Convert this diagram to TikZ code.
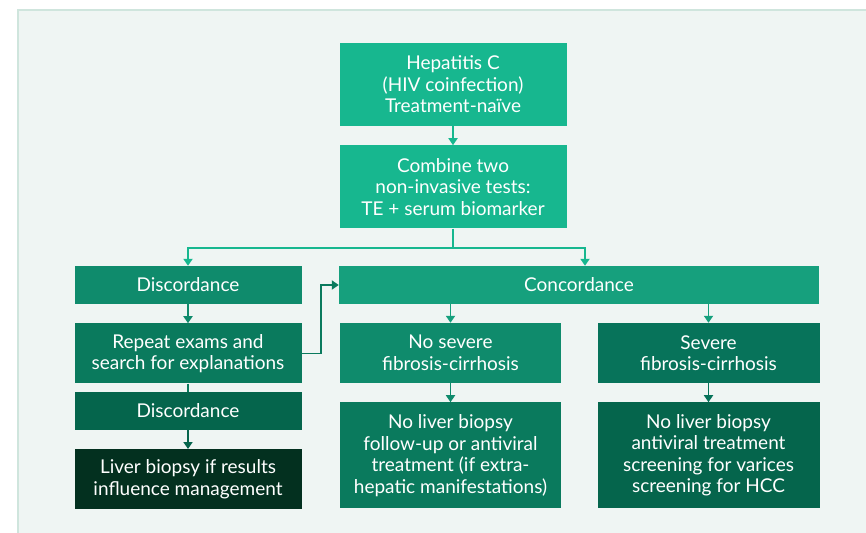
\documentclass[tikz,border=0pt]{standalone}
\usepackage{fontspec}
\setmainfont{Lato}
\usetikzlibrary{arrows.meta, positioning, calc}
\definecolor{panel}{HTML}{EFF5F3}
\definecolor{edge}{HTML}{CFE5DD}
\definecolor{cTop}{HTML}{17B78F}
\definecolor{cConc}{HTML}{16A07D}
\definecolor{cDisc}{HTML}{0F8B6C}
\definecolor{cRep}{HTML}{0A7A5D}
\definecolor{cSev}{HTML}{07735A}
\definecolor{cDark}{HTML}{05654C}
\definecolor{cBiopsy}{HTML}{03301F}

\begin{document}
\begin{tikzpicture}[x=1pt, y=-1pt, node distance=19pt,
  box/.style={inner sep=0pt, minimum width=227pt, align=center, text=white,
              font=\fontsize{19}{21.5}\selectfont},
  short/.style={box, minimum height=38pt},
  mid/.style={box, minimum height=60pt},
  tall/.style={box, minimum height=83pt},
  arrow/.style={-{Triangle[width=9pt,length=7pt]}, line width=1.8pt}]

  \useasboundingbox (0,0) rectangle (866,532);
  \fill[panel] (18,10) rectangle (870,536);
  \draw[edge, line width=1.5pt] (18,536) -- (18,10) -- (870,10);

  \node[tall, fill=cTop] (hcv) at (453,84.5) {Hepatitis C\\(HIV coinfection)\\Treatment-naïve};
  \node[tall, fill=cTop, below=of hcv] (comb) {Combine two\\non-invasive tests:\\TE + serum biomarker};

  \node[short, fill=cDisc] (disc1) at (188,285) {Discordance};
  \node[mid, fill=cRep, below=of disc1] (rep) {Repeat exams and\\search for explanations};
  \node[short, fill=cDark, below=8pt of rep] (disc2) {Discordance};
  \node[mid, fill=cBiopsy, below=of disc2] (liver) {Liver biopsy if results\\influence management};

  \node[short, fill=cConc, minimum width=480pt] (conc) at (579,285) {Concordance};
  \node[mid, fill=cDisc, minimum width=221pt] (nosev) at (450.5,353) {No severe\\fibrosis-cirrhosis};
  \node[mid, fill=cSev, minimum width=222pt] (sev) at (708.5,353) {Severe\\fibrosis-cirrhosis};
  \node[box, fill=cRep, minimum width=221pt, minimum height=106pt, below=of nosev] (nolb1)
    {No liver biopsy\\follow-up or antiviral\\treatment (if extra-\\hepatic manifestations)};
  \node[box, fill=cDark, minimum width=222pt, minimum height=106pt, below=of sev] (nolb2)
    {No liver biopsy\\antiviral treatment\\screening for varices\\screening for HCC};

  \coordinate (split) at ($(comb.south)+(0,19)$);
  \draw[arrow, cTop] (hcv) -- (comb);
  \draw[line width=1.8pt, cTop] (comb.south) -- (split);
  \draw[arrow, cTop] (split) -| (disc1.north);
  \draw[arrow, cTop] (split) -| ($(conc.north)+(6,0)$);

  \draw[arrow, cDisc] (disc1) -- (rep);
  \draw[line width=1.8pt, cRep] (rep) -- (disc2);
  \draw[arrow, cDark] (disc2) -- (liver);
  \draw[arrow, cRep] (rep.east) -- ++(19,0) |- (conc.west);

  \draw[arrow, cConc] (nosev.north |- conc.south) -- (nosev.north);
  \draw[arrow, cConc] (sev.north |- conc.south) -- (sev.north);
  \draw[arrow, cDisc] (nosev) -- (nolb1);
  \draw[arrow, cSev] (sev) -- (nolb2);
\end{tikzpicture}
\end{document}
